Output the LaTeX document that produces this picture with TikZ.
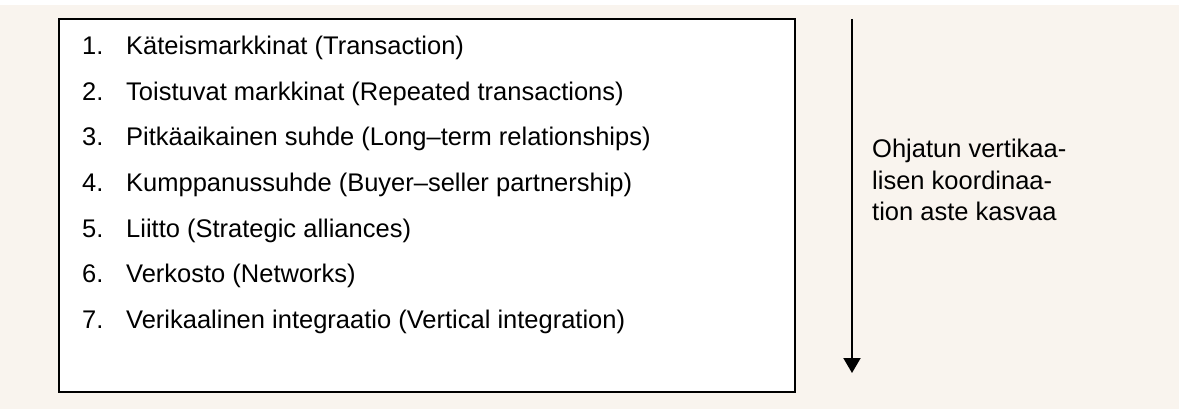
\documentclass[tikz,border=0pt]{standalone}
\usepackage{fontspec}
\setmainfont{Liberation Sans}
\usetikzlibrary{arrows.meta}
\definecolor{paper}{RGB}{249,244,238}
\begin{document}
\begin{tikzpicture}[x=1pt, y=-1pt,
  every node/.style={font=\fontsize{25.5}{31.5}\selectfont, inner sep=0pt},
  item/.style={anchor=base west},
  frame/.style={draw, line width=2.5pt, fill=white, minimum width=736pt, minimum height=373pt},
  trend/.style={-{Triangle[width=17pt,length=15pt]}, line width=2pt}]
  \useasboundingbox (0,0) rectangle (1179,409);
  % Background
  \fill[paper] (0,5) rectangle (1179,409);
  % List box
  \node[frame] (box) at (427,205.5) {};
  \foreach \i/\txt in {1/{Käteismarkkinat (Transaction)},
                       2/{Toistuvat markkinat (Repeated transactions)},
                       3/{Pitkäaikainen suhde (Long–term relationships)},
                       4/{Kumppanussuhde (Buyer–seller partnership)},
                       5/{Liitto (Strategic alliances)},
                       6/{Verkosto (Networks)},
                       7/{Verikaalinen integraatio (Vertical integration)}} {
    \pgfmathsetmacro{\yy}{55+45.5*(\i-1)}
    \node[item] (num\i) at (82,\yy) {\i.};
    \node[item] (lbl\i) at (126,\yy) {\txt};
  }
  % Arrow and its label
  \coordinate (start) at (852,19);
  \coordinate (tip) at (852,373);
  \draw[trend] (start) -- (tip);
  \node[item, align=left] (grade) at (872,221)
    {Ohjatun vertikaa-\\lisen koordinaa-\\tion aste kasvaa};
\end{tikzpicture}
\end{document}
